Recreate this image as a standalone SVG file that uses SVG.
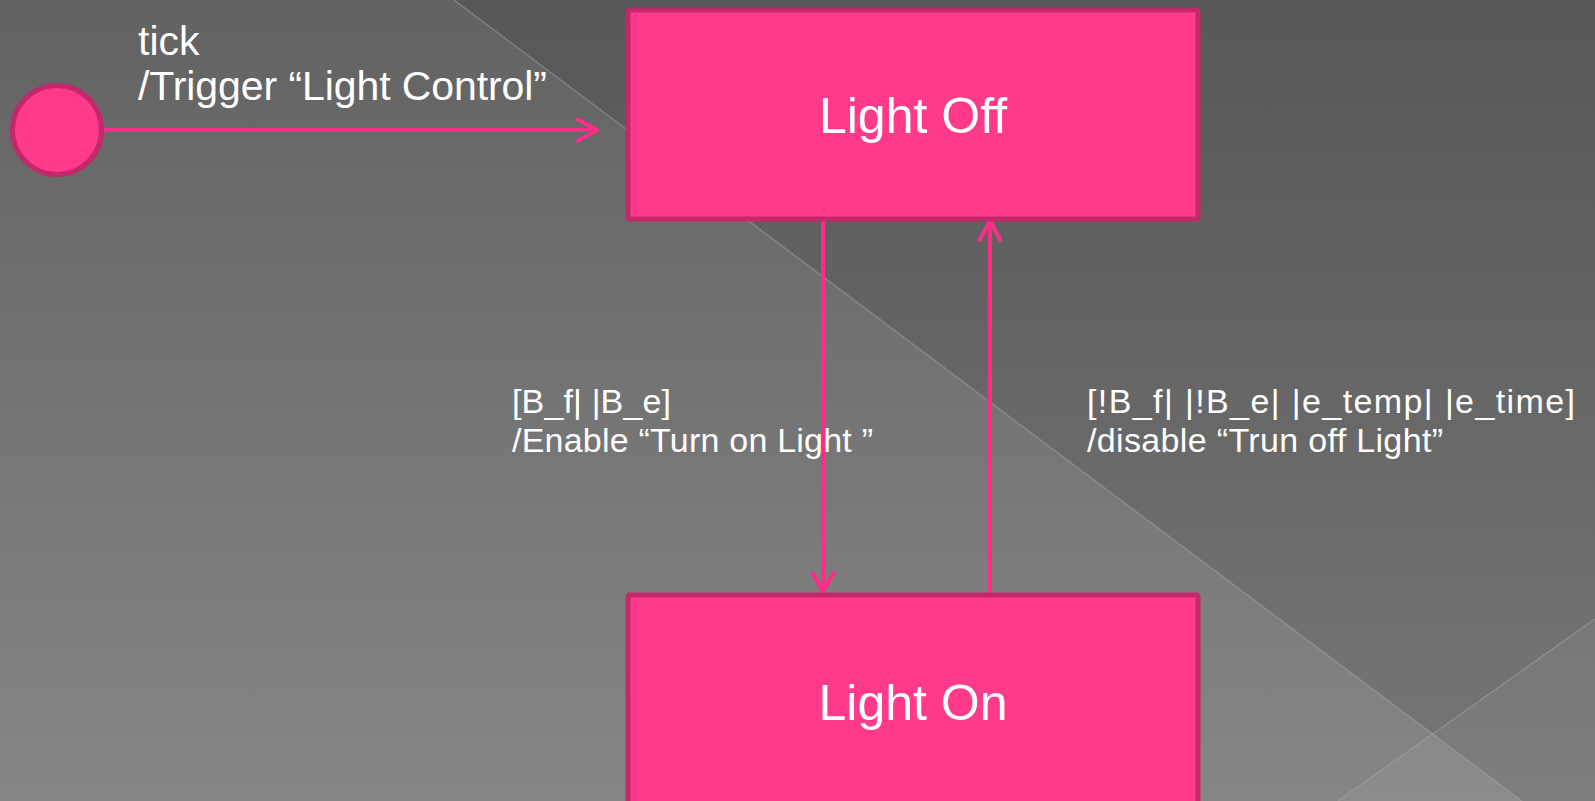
<svg xmlns="http://www.w3.org/2000/svg" width="1595" height="801" viewBox="0 0 1595 801">
  <defs>
    <linearGradient id="bg" x1="0" y1="0" x2="0" y2="1">
      <stop offset="0" stop-color="#626262"/>
      <stop offset="1" stop-color="#868686"/>
    </linearGradient>
    <marker id="arrow" markerUnits="userSpaceOnUse" markerWidth="26" markerHeight="28" viewBox="0 0 26 28" refX="22" refY="14" orient="auto">
      <path d="M3,3.5 L22,14 L3,24.5" fill="none" stroke="#ff2d8a" stroke-width="4" stroke-linecap="round" stroke-linejoin="round"/>
    </marker>
    <style>
      .state { fill: #ff3a8a; stroke: #c2286a; stroke-width: 5; }
      .conn { stroke: #ff2d8a; stroke-width: 4; fill: none; }
      .lbl { font-family: "Liberation Sans", Arial, sans-serif; fill: #ffffff; }
      .big { font-size: 50px; }
      .top { font-size: 41px; }
      .mid { font-size: 34px; }
      .bgline { stroke: #a8a8a8; stroke-opacity: 0.55; stroke-width: 1.2; fill: none; }
    </style>
  </defs>

  <g id="background">
    <rect x="0" y="0" width="1595" height="801" fill="url(#bg)"/>
    <polygon points="454,0 1595,0 1595,801 1522,801" fill="#000000" fill-opacity="0.11"/>
    <polygon points="1338,801 1595,619 1595,801" fill="#ffffff" fill-opacity="0.05"/>
    <line class="bgline" x1="454" y1="0" x2="1522" y2="801"/>
    <line class="bgline" x1="1338" y1="801" x2="1595" y2="619"/>
  </g>

  <g id="connectors">
    <line class="conn" x1="104" y1="130" x2="597" y2="130" marker-end="url(#arrow)"/>
    <line class="conn" x1="823" y1="221" x2="823" y2="592" marker-end="url(#arrow)"/>
    <line class="conn" x1="990" y1="593" x2="990" y2="221" marker-end="url(#arrow)"/>
  </g>

  <g id="initial">
    <circle cx="57" cy="130" r="44.5" class="state"/>
  </g>

  <g id="light-off">
    <rect x="628" y="10" width="570" height="209" rx="2" class="state"/>
    <text class="lbl big" x="913" y="133" text-anchor="middle">Light Off</text>
  </g>

  <g id="light-on">
    <rect x="628" y="595" width="570" height="300" rx="2" class="state"/>
    <text class="lbl big" x="913" y="720" text-anchor="middle">Light On</text>
  </g>

  <g id="labels">
    <text class="lbl top" x="138" y="55">tick</text>
    <text class="lbl top" x="138" y="100" textLength="409">/Trigger “Light Control”</text>
    <text class="lbl mid" x="512" y="413" textLength="159">[B_f| |B_e]</text>
    <text class="lbl mid" x="512" y="452" textLength="361">/Enable “Turn on Light ”</text>
    <text class="lbl mid" x="1087" y="413" textLength="488">[!B_f| |!B_e| |e_temp| |e_time]</text>
    <text class="lbl mid" x="1087" y="452" textLength="356">/disable “Trun off Light”</text>
  </g>
</svg>
